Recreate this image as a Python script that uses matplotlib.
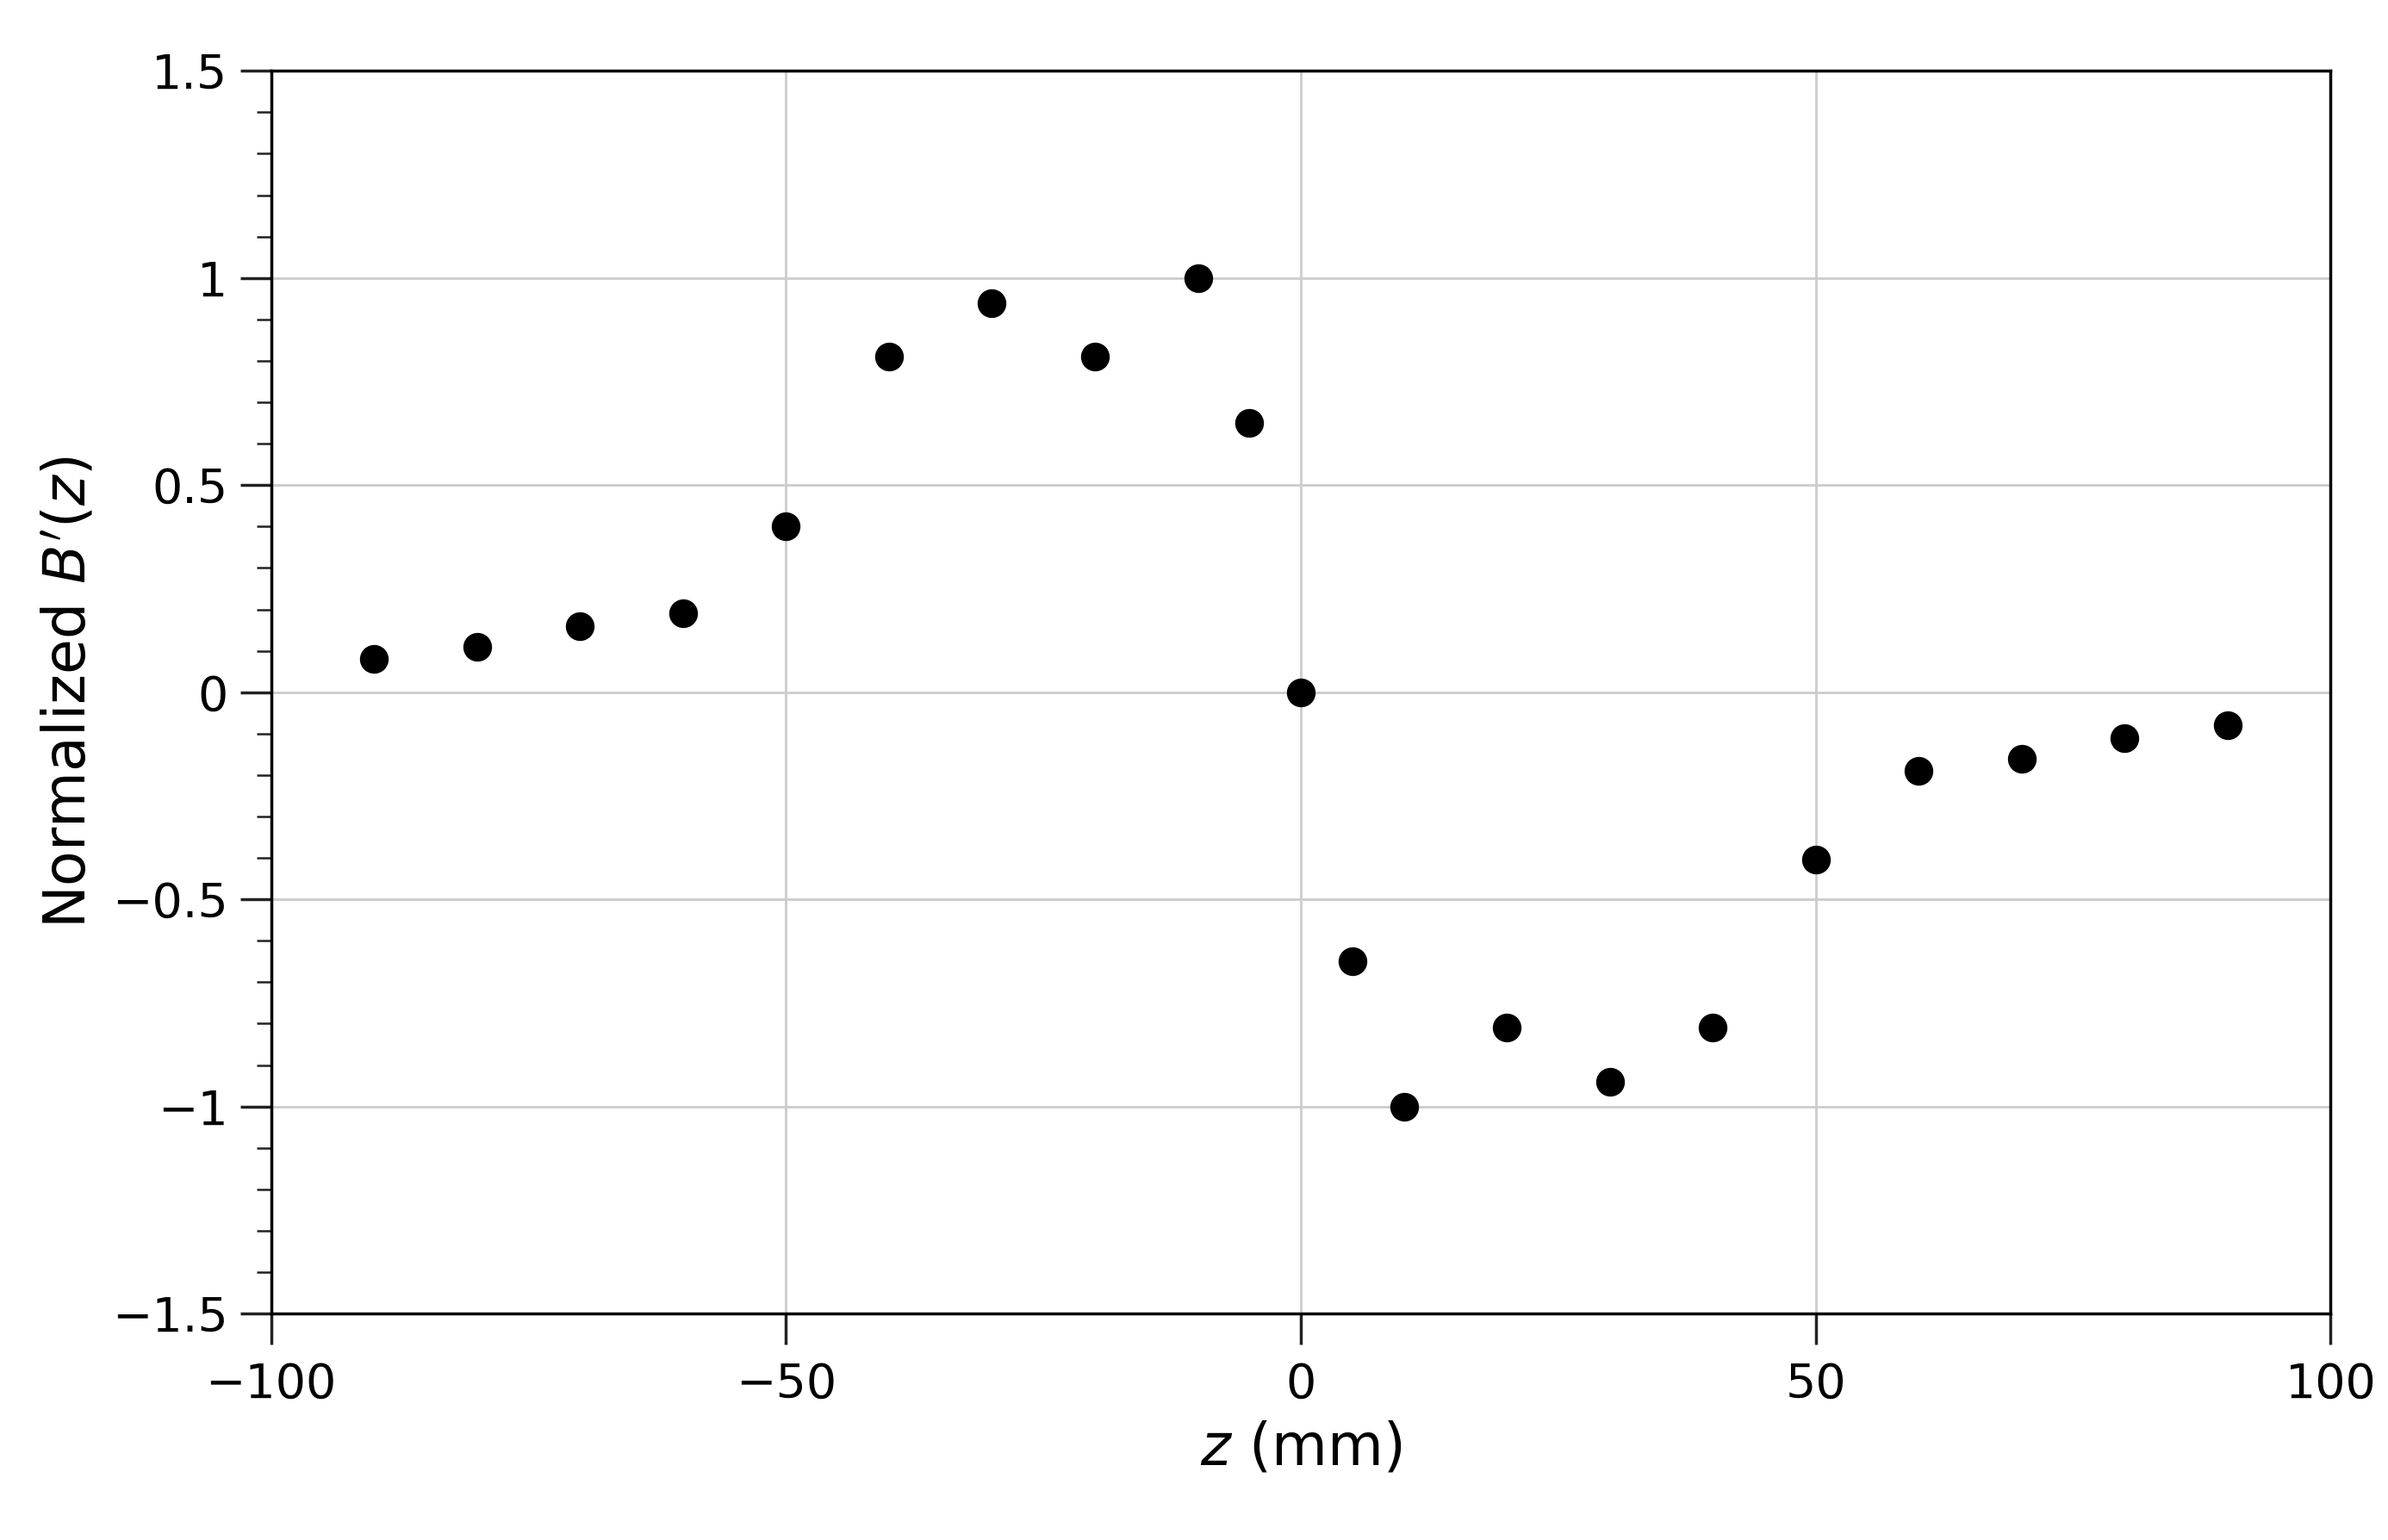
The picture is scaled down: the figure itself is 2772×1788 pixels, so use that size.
import matplotlib.pyplot as plt
from matplotlib.ticker import MultipleLocator, FuncFormatter

z = [-90, -80, -70, -60, -50, -40, -30, -20, -10, -5, 0, 5, 10, 20, 30, 40, 50, 60, 70, 80, 90]
b = [0.08, 0.11, 0.16, 0.19, 0.40, 0.81, 0.94, 0.81, 1.0, 0.65, 0.0,
     -0.65, -1.0, -0.81, -0.94, -0.81, -0.405, -0.19, -0.16, -0.11, -0.08]

fig = plt.figure(figsize=(27.72, 17.88), dpi=100)
ax = fig.add_axes([0.1135, 0.147, 0.8625, 0.807])

ax.plot(z, b, 'o', color='black', markersize=23)

ax.set_xlim(-100, 100)
ax.set_ylim(-1.5, 1.5)
ax.xaxis.set_major_locator(MultipleLocator(50))
ax.yaxis.set_major_locator(MultipleLocator(0.5))
ax.yaxis.set_minor_locator(MultipleLocator(0.1))
fmt = FuncFormatter(lambda v, p: ('%g' % v).replace('-', '\u2212'))
ax.xaxis.set_major_formatter(fmt)
ax.yaxis.set_major_formatter(fmt)
ax.grid(True, which='major', color='#cccccc', linewidth=2)
ax.set_axisbelow(True)
ax.tick_params(which='major', length=26, width=2.5, labelsize=40, color='#222222', pad=10)
ax.tick_params(which='minor', length=12, width=1.8, color='#222222')
ax.tick_params(axis='x', pad=14)
for s in ax.spines.values():
    s.set_linewidth(2.5)

ax.set_xlabel('$z$ (mm)', fontsize=48, labelpad=10)
ax.set_ylabel("Normalized $B'(z)$", fontsize=48, labelpad=12)

fig.savefig('out.png', dpi=100)
